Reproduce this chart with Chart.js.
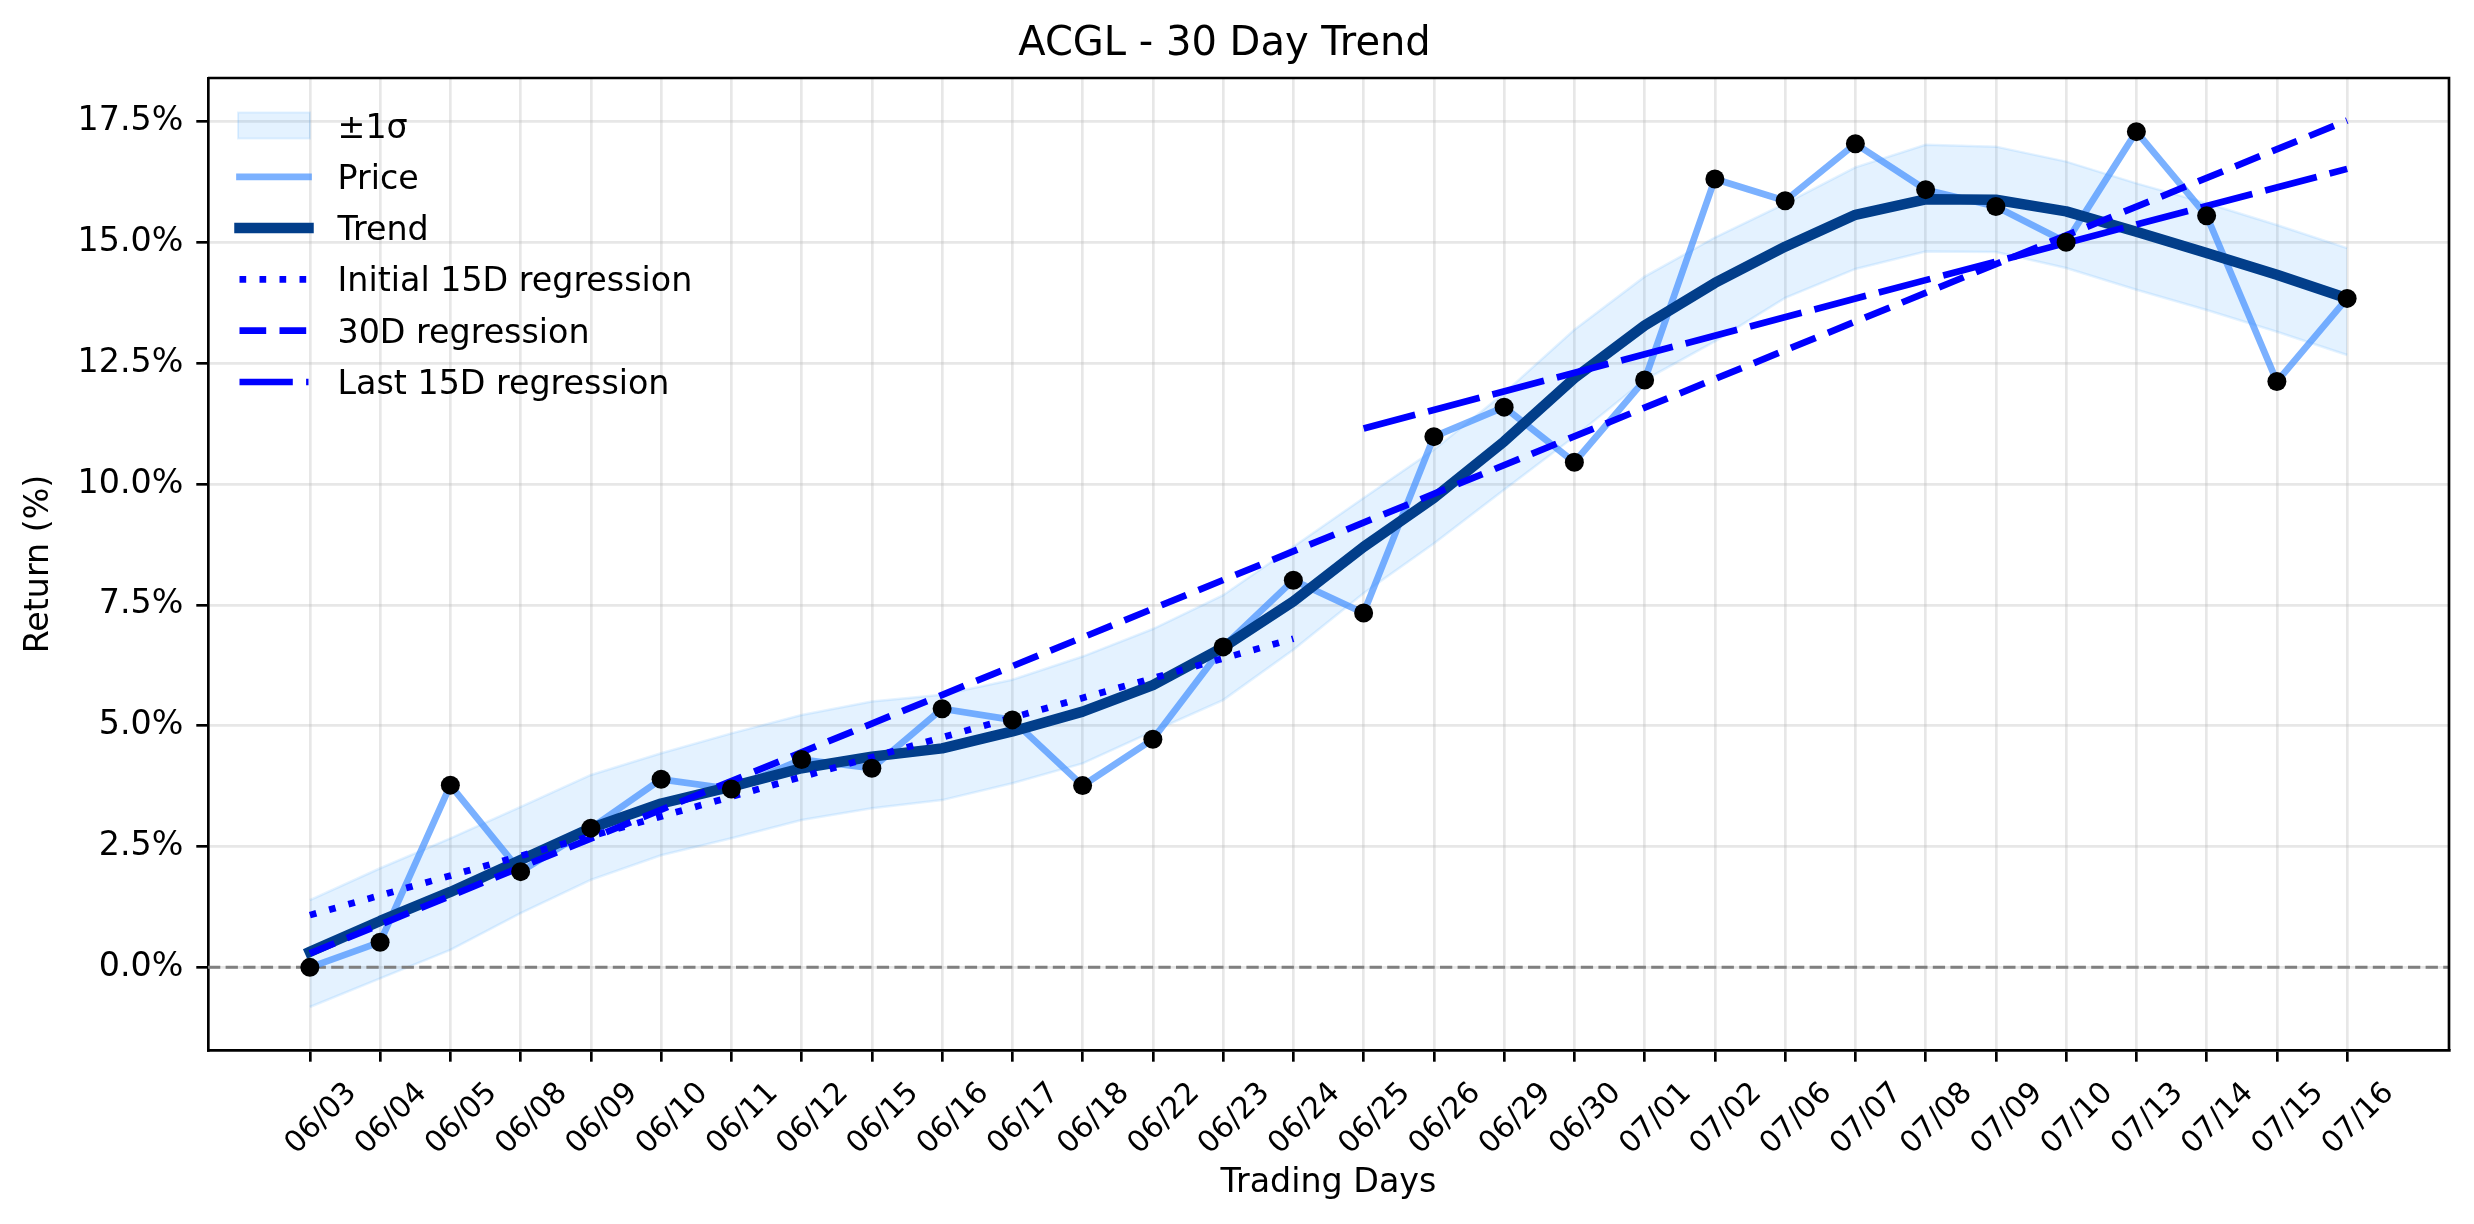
<!DOCTYPE html>
<html>
<head>
<meta charset="utf-8">
<script src="https://cdn.jsdelivr.net/npm/chart.js@4.4.0/dist/chart.umd.min.js"></script>
<style>
  html, body { margin: 0; padding: 0; background: #fff; }
  #wrap { width: 2474px; height: 1224px; }
</style>
</head>
<body>
<div id="wrap"><canvas id="chart" width="2474" height="1224"></canvas></div>
<script>
// values (return in %)
const dates = ['06/03','06/04','06/05','06/08','06/09','06/10','06/11','06/12','06/15','06/16',
  '06/17','06/18','06/22','06/23','06/24','06/25','06/26','06/29','06/30','07/01',
  '07/02','07/06','07/07','07/08','07/09','07/10','07/13','07/14','07/15','07/16'];
const price = [0.00, 0.52, 3.77, 1.98, 2.88, 3.89, 3.69, 4.30, 4.12, 5.35,
  5.12, 3.76, 4.72, 6.63, 8.01, 7.33, 10.98, 11.59, 10.45, 12.15,
  16.31, 15.86, 17.04, 16.09, 15.74, 15.00, 17.29, 15.55, 12.12, 13.84];
const trend = [0.32, 0.96, 1.56, 2.22, 2.88, 3.39, 3.74, 4.12, 4.36, 4.53,
  4.88, 5.29, 5.84, 6.62, 7.57, 8.70, 9.71, 10.88, 12.19, 13.28,
  14.16, 14.91, 15.57, 15.89, 15.88, 15.64, 15.22, 14.78, 14.33, 13.84];
const bandUpper = [1.39, 2.05, 2.67, 3.32, 3.98, 4.43, 4.84, 5.22, 5.50, 5.64,
  5.95, 6.43, 7.00, 7.70, 8.70, 9.71, 10.71, 11.88, 13.19, 14.29,
  15.10, 15.80, 16.55, 17.02, 16.98, 16.67, 16.22, 15.81, 15.36, 14.88];
const bandLower = [-0.82, -0.23, 0.36, 1.12, 1.81, 2.32, 2.67, 3.05, 3.29, 3.46,
  3.81, 4.22, 4.88, 5.53, 6.57, 7.74, 8.77, 9.88, 10.98, 12.15,
  12.95, 13.85, 14.45, 14.81, 14.80, 14.47, 14.02, 13.60, 13.15, 12.67];

// regression segments: [start index, end index] and [start value, end value]
const initialRegX = [0, 14];
const initialRegY = [1.08, 6.80];
const fullRegX = [0, 29];
const fullRegY = [0.29, 17.52];
const lastRegX = [15, 29];
const lastRegY = [11.15, 16.52];

const yTicks = [0, 2.5, 5, 7.5, 10, 12.5, 15, 17.5];

const FONT = '"DejaVu Sans", "Liberation Sans", sans-serif';
const pts = arr => arr.map((v, i) => ({ x: i, y: v }));
const seg = (xs, ys) => [{ x: xs[0], y: ys[0] }, { x: xs[1], y: ys[1] }];

const BAND = 'rgba(30,144,255,0.12)';

// legend drawn inside the axes, top-left, no frame (like matplotlib frameon=False)
const legendOrder = [0, 2, 3, 4, 5, 6];
const insideLegend = {
  id: 'insideLegend',
  afterDatasetsDraw(chart) {
    const { ctx, chartArea } = chart;
    const x0 = chartArea.left + 31.5, x1 = x0 + 69, tx = x0 + 98;
    let y = chartArea.top + 47.5;
    ctx.save();
    ctx.font = '33.3px ' + FONT;
    ctx.textBaseline = 'alphabetic';
    legendOrder.forEach(idx => {
      const ds = chart.data.datasets[idx];
      if (ds.fill !== undefined && ds.fill !== false) {
        ctx.fillStyle = ds.backgroundColor;
        ctx.fillRect(x0 - 1.5, y - 13, 72, 26);
        ctx.strokeStyle = ds.borderColor;
        ctx.lineWidth = 2;
        ctx.strokeRect(x0 - 1.5, y - 13, 72, 26);
      } else {
        ctx.beginPath();
        ctx.setLineDash(ds.borderDash || []);
        ctx.lineCap = ds.borderDash ? 'butt' : 'square';
        ctx.strokeStyle = ds.borderColor;
        ctx.lineWidth = ds.borderWidth;
        ctx.moveTo(x0, y);
        ctx.lineTo(x1, y);
        ctx.stroke();
        ctx.setLineDash([]);
      }
      ctx.fillStyle = '#000';
      ctx.fillText(ds.label, tx, y + 12);
      y += 51.3;
    });
    ctx.restore();
  }
};

// zero reference line, drawn just before the price line (above the band)
const zeroLine = {
  id: 'zeroLine',
  beforeDatasetDraw(chart, args) {
    if (args.index !== 2) return;
    const { ctx, chartArea, scales } = chart;
    const y = scales.y.getPixelForValue(0);
    ctx.save();
    ctx.strokeStyle = '#808080';
    ctx.lineWidth = 3;
    ctx.setLineDash([12.3, 5.3]);
    ctx.beginPath();
    ctx.moveTo(chartArea.left, y);
    ctx.lineTo(chartArea.right, y);
    ctx.stroke();
    ctx.restore();
  }
};

// top and right spines
const frame = {
  id: 'frame',
  afterDraw(chart) {
    const { ctx, chartArea: a } = chart;
    ctx.save();
    ctx.strokeStyle = '#000';
    ctx.lineWidth = 2.67;
    ctx.beginPath();
    ctx.moveTo(a.left, a.top);
    ctx.lineTo(a.right, a.top);
    ctx.lineTo(a.right, a.bottom);
    ctx.stroke();
    ctx.restore();
  }
};

Chart.defaults.color = '#000';
Chart.defaults.font.family = FONT;

new Chart(document.getElementById('chart'), {
  type: 'line',
  data: {
    datasets: [
      { label: '±1σ', data: pts(bandUpper), fill: 1, backgroundColor: BAND, borderColor: BAND,
        borderWidth: 2.5, pointRadius: 0, order: 10 },
      { label: '', data: pts(bandLower), fill: false, borderColor: BAND,
        borderWidth: 2.5, pointRadius: 0, order: 10 },
      { label: 'Price', data: pts(price), borderColor: 'rgba(60,140,255,0.68)', borderWidth: 6.7,
        pointRadius: 0, borderJoinStyle: 'round', order: 8 },
      { label: 'Trend', data: pts(trend), borderColor: '#023e8a', borderWidth: 10.5,
        pointRadius: 0, borderJoinStyle: 'round', borderCapStyle: 'square', order: 7 },
      { label: 'Initial 15D regression', data: seg(initialRegX, initialRegY), borderColor: '#0000ff',
        borderWidth: 6.7, borderDash: [6.7, 13.3], pointRadius: 0, order: 6 },
      { label: '30D regression', data: seg(fullRegX, fullRegY), borderColor: '#0000ff',
        borderWidth: 6.7, borderDash: [26.7, 13.3], pointRadius: 0, order: 5 },
      { label: 'Last 15D regression', data: seg(lastRegX, lastRegY), borderColor: '#0000ff',
        borderWidth: 6.7, borderDash: [53.3, 13.3], pointRadius: 0, order: 4 },
      { label: 'points', data: pts(price), showLine: false, pointRadius: 9.5,
        pointBackgroundColor: '#000', pointBorderWidth: 0, order: 1 }
    ]
  },
  options: {
    responsive: false,
    animation: false,
    devicePixelRatio: 1,
    events: [],
    layout: { padding: { left: 0, right: 25, top: 0, bottom: 0 } },
    plugins: {
      legend: { display: false },
      tooltip: { enabled: false },
      title: {
        display: true,
        text: 'ACGL - 30 Day Trend',
        font: { size: 40, weight: 'normal', lineHeight: 1.2 },
        padding: { top: 21, bottom: 9 },
        color: '#000'
      }
    },
    scales: {
      x: {
        type: 'linear',
        min: -1.45,
        max: 30.45,
        afterBuildTicks: s => { s.ticks = dates.map((_, i) => ({ value: i })); },
        afterFit: s => { s.height = 174; },
        ticks: {
          autoSkip: false,
          minRotation: 45,
          maxRotation: 45,
          font: { size: 30 },
          padding: 14,
          labelOffset: 42,
          callback: v => dates[v]
        },
        grid: { color: 'rgba(176,176,176,0.3)', lineWidth: 2.67, tickColor: '#000',
          tickWidth: 2.67, tickLength: 11.7 },
        border: { color: '#000', width: 2.67 },
        title: { display: true, text: 'Trading Days', font: { size: 33.3, lineHeight: 1.2 },
          padding: { top: 0, bottom: 21 } }
      },
      y: {
        min: -1.71,
        max: 18.40,
        afterBuildTicks: s => { s.ticks = yTicks.map(v => ({ value: v })); },
        afterFit: s => { s.width = 208; },
        ticks: {
          font: { size: 33.3 },
          padding: 13,
          callback: v => v.toFixed(1) + '%'
        },
        grid: { color: 'rgba(176,176,176,0.3)', lineWidth: 2.67, tickColor: '#000',
          tickWidth: 2.67, tickLength: 11.7 },
        border: { color: '#000', width: 2.67 },
        title: { display: true, text: 'Return (%)', font: { size: 33.3, lineHeight: 1.2 },
          padding: { top: 19, bottom: 0 } }
      }
    }
  },
  plugins: [zeroLine, insideLegend, frame]
});
</script>
</body>
</html>
